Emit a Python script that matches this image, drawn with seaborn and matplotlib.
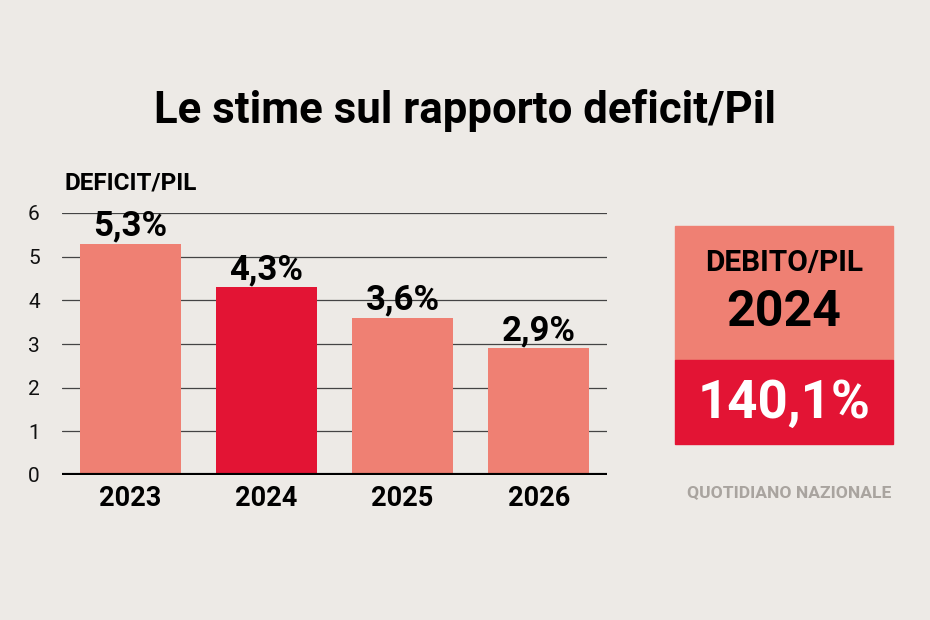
import matplotlib
matplotlib.use("Agg")
import matplotlib.pyplot as plt
import seaborn as sns
import pandas as pd
from matplotlib.patches import Rectangle

years = ["2023", "2024", "2025", "2026"]
deficit = [5.3, 4.3, 3.6, 2.9]
labels = ["5,3%", "4,3%", "3,6%", "2,9%"]
yticks = [0, 1, 2, 3, 4, 5, 6]
debt_year = "2024"
debt_value = "140,1%"

BG = "#EDEAE6"
SALMON = "#EF8073"
RED = "#E31434"
W = "bold"

sns.set_theme(style="white")
plt.rcParams["font.family"] = ["Roboto", "DejaVu Sans"]

fig = plt.figure(figsize=(9.3, 6.2), dpi=100, facecolor=BG)
ax = fig.add_axes([62/930, 1-475/620, (607-62)/930, (475-213)/620])
ax.set_facecolor(BG)

df = pd.DataFrame({"anno": years, "deficit": deficit})
colors = [RED if y == debt_year else SALMON for y in years]
sns.barplot(data=df, x="anno", y="deficit", hue="anno", palette=colors,
            legend=False, width=0.74, ax=ax, zorder=2, saturation=1,
            linewidth=0, edgecolor="none")

for t in yticks[1:]:
    ax.axhline(t, color="#444444", lw=0.9, zorder=1)
ax.axhline(0, color="black", lw=3, zorder=3)

for i, (v, lab) in enumerate(zip(deficit, labels)):
    ax.text(i, v + 0.02, lab, ha="center", va="bottom", fontsize=25,
            fontweight=W, color="black", zorder=4)

ax.set_xlim(-0.5, 3.5)
ax.set_ylim(0, 6)
ax.set_yticks(yticks)
ax.set_yticklabels([str(t) for t in yticks], fontsize=15, color="#111111")
ax.tick_params(axis="y", length=0, pad=16)
ax.tick_params(axis="x", length=0, pad=7)
ax.set_xticks(range(len(years)))
ax.set_xticklabels(years, fontsize=19.5, fontweight=W, color="black")
ax.set_xlabel("")
ax.set_ylabel("")
for s in ax.spines.values():
    s.set_visible(False)

fig.text(465/930, 1-110/620, "Le stime sul rapporto deficit/Pil", ha="center",
         va="center", fontsize=31.5, fontweight=W, color="black")
fig.text(65/930, 1-183/620, "DEFICIT/PIL", ha="left", va="center",
         fontsize=17.5, fontweight=W, color="black")

# Debt box
fig.patches.append(Rectangle((675/930, 1-360/620), (893-675)/930, (360-226)/620,
                             transform=fig.transFigure, color=SALMON, zorder=0))
fig.patches.append(Rectangle((675/930, 1-444/620), (893-675)/930, (444-360)/620,
                             transform=fig.transFigure, color=RED, zorder=0))
fig.text(784/930, 1-263/620, "DEBITO/PIL", ha="center", va="center",
         fontsize=21.5, fontweight=W, color="black")
fig.text(784/930, 1-313/620, debt_year, ha="center", va="center",
         fontsize=36, fontweight=W, color="black")
fig.text(784/930, 1-403/620, debt_value, ha="center", va="center",
         fontsize=38, fontweight=W, color="white")
fig.text(789/930, 1-493/620, "QUOTIDIANO NAZIONALE", ha="center", va="center",
         fontsize=12.6, fontweight=W, color="#A9A49F")

fig.savefig("out.png", dpi=100, facecolor=BG)
